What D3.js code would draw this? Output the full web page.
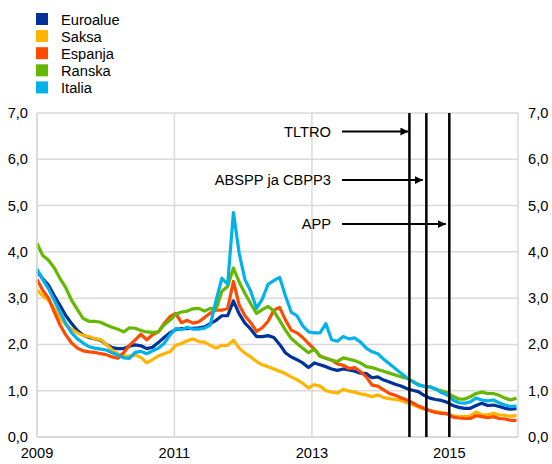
<!DOCTYPE html>
<html>
<head>
<meta charset="utf-8">
<script src="https://cdn.jsdelivr.net/npm/d3@7"></script>
<style>
  body { margin: 0; background: #fff; }
  svg text { font-family: Arial, "Liberation Sans", sans-serif; fill: #000; }
</style>
</head>
<body>
<svg width="552" height="464"></svg>
<script>
// monthly values, Jan 2009 - Dec 2015
const euroalue = [3.58,3.42,3.28,3.05,2.84,2.62,2.45,2.3,2.2,2.15,2.12,2.09,
  2.0,1.93,1.91,1.91,1.96,1.99,1.97,1.91,1.94,2.04,2.15,2.25,
  2.32,2.34,2.34,2.35,2.36,2.38,2.45,2.52,2.62,2.62,2.94,2.66,
  2.46,2.33,2.17,2.17,2.19,2.15,2.0,1.82,1.73,1.67,1.6,1.5,
  1.6,1.56,1.52,1.47,1.44,1.47,1.45,1.42,1.38,1.37,1.28,1.3,
  1.23,1.19,1.14,1.1,1.05,1.01,0.98,0.9,0.84,0.81,0.79,0.75,
  0.68,0.64,0.62,0.62,0.68,0.73,0.68,0.69,0.66,0.62,0.6,0.61];
const saksa = [3.17,3.05,2.95,2.78,2.58,2.42,2.33,2.25,2.19,2.17,2.12,2.11,
  2.0,1.88,1.8,1.75,1.75,1.77,1.72,1.6,1.67,1.75,1.8,1.84,
  1.98,2.02,2.08,2.12,2.06,2.05,1.98,1.92,1.98,1.98,2.09,1.92,
  1.81,1.73,1.63,1.56,1.52,1.47,1.42,1.37,1.3,1.24,1.16,1.06,
  1.13,1.1,1.0,0.97,0.95,1.03,0.99,0.97,0.93,0.91,0.87,0.91,
  0.85,0.83,0.81,0.79,0.74,0.7,0.65,0.6,0.57,0.55,0.53,0.51,
  0.46,0.44,0.44,0.45,0.54,0.48,0.48,0.51,0.48,0.47,0.45,0.46];
const espanja = [3.4,3.17,3.0,2.7,2.42,2.2,2.03,1.92,1.86,1.84,1.83,1.8,
  1.78,1.73,1.7,1.82,1.98,2.1,2.22,2.1,2.21,2.27,2.45,2.6,
  2.67,2.47,2.52,2.46,2.49,2.58,2.68,2.74,2.74,2.78,3.36,2.85,
  2.62,2.47,2.28,2.36,2.5,2.74,2.8,2.53,2.31,2.25,2.15,2.02,
  1.9,1.75,1.7,1.66,1.58,1.55,1.48,1.5,1.41,1.3,1.12,1.1,
  1.02,0.94,0.9,0.85,0.8,0.74,0.67,0.62,0.57,0.53,0.51,0.5,
  0.43,0.41,0.4,0.4,0.46,0.44,0.42,0.44,0.4,0.39,0.36,0.36];
const ranska = [4.19,3.92,3.82,3.65,3.42,3.22,2.95,2.75,2.56,2.5,2.5,2.48,
  2.42,2.37,2.33,2.27,2.36,2.35,2.3,2.27,2.26,2.27,2.42,2.52,
  2.65,2.7,2.72,2.77,2.78,2.72,2.78,2.76,3.15,3.25,3.65,3.35,
  3.1,2.88,2.67,2.75,2.82,2.72,2.52,2.31,2.13,2.02,1.92,1.82,
  1.9,1.74,1.7,1.66,1.63,1.71,1.68,1.65,1.6,1.52,1.5,1.46,
  1.42,1.38,1.34,1.3,1.27,1.2,1.14,1.09,1.09,1.03,1.0,0.96,
  0.88,0.82,0.82,0.87,0.94,0.97,0.94,0.94,0.9,0.84,0.8,0.84];
const italia = [3.63,3.4,3.2,2.95,2.7,2.45,2.25,2.12,2.03,1.95,1.92,1.9,
  1.88,1.82,1.77,1.71,1.7,1.83,1.85,1.8,1.86,1.92,2.02,2.2,
  2.34,2.32,2.37,2.33,2.33,2.35,2.42,2.95,3.43,3.3,4.85,3.97,
  3.4,3.15,2.78,2.98,3.3,3.38,3.45,3.05,2.7,2.62,2.4,2.27,
  2.25,2.25,2.45,2.1,2.07,2.17,2.12,2.14,2.05,1.92,1.84,1.8,
  1.68,1.58,1.48,1.38,1.28,1.2,1.12,1.1,1.08,1.04,0.96,0.91,
  0.8,0.74,0.73,0.76,0.84,0.8,0.78,0.8,0.74,0.69,0.66,0.67];

const seriesNames = ['Euroalue', 'Saksa', 'Espanja', 'Ranska', 'Italia'];
const seriesColors = ['#003299', '#ffb400', '#ff4b00', '#65b800', '#00b1ea'];
const seriesValues = [euroalue, saksa, espanja, ranska, italia];

const yTicks = [0, 1, 2, 3, 4, 5, 6, 7];
const yearTicks = ['2009', '2011', '2013', '2015'];

const eventNames = ['TLTRO', 'ABSPP ja CBPP3', 'APP'];
const eventDates = ['2014-06-03', '2014-09-01', '2015-01-01'];
const eventLevels = [6.6, 5.55, 4.6];

const svg = d3.select('svg');
const plotLeft = 37, plotRight = 518, plotTop = 113, plotBottom = 437;
const fontSize = 14.67;

const parse = d3.timeParse('%Y-%m-%d');
const x = d3.scaleTime()
  .domain([parse('2009-01-01'), parse('2016-01-01')])
  .range([plotLeft, plotRight]);
const xi = d3.scaleLinear().domain([0, 83]).range([plotLeft, plotRight - 1.5]);
const y = d3.scaleLinear().domain([0, 7]).range([plotBottom, plotTop]);
const fmt = d3.formatLocale({decimal: ',', thousands: ' ', grouping: [3], currency: ['', '']}).format('.1f');

// grid
svg.append('g').selectAll('line').data(yTicks).join('line')
  .attr('x1', plotLeft).attr('x2', plotRight)
  .attr('y1', d => y(d)).attr('y2', d => y(d))
  .attr('stroke', '#d9d9d9').attr('stroke-width', 1.5);
svg.append('g').selectAll('line').data(yearTicks).join('line')
  .attr('x1', d => x(parse(d + '-01-01'))).attr('x2', d => x(parse(d + '-01-01')))
  .attr('y1', plotTop).attr('y2', plotBottom)
  .attr('stroke', '#d9d9d9').attr('stroke-width', 1.5);
svg.append('line').attr('x1', plotRight).attr('x2', plotRight).attr('y1', plotTop).attr('y2', plotBottom)
  .attr('stroke', '#d9d9d9').attr('stroke-width', 1.5);

// tick labels
svg.append('g').selectAll('text').data(yTicks).join('text')
  .attr('x', 28).attr('y', d => y(d) + 5)
  .attr('text-anchor', 'end').attr('font-size', fontSize)
  .text(d => fmt(d));
svg.append('g').selectAll('text').data(yTicks).join('text')
  .attr('x', 528).attr('y', d => y(d) + 5)
  .attr('font-size', fontSize)
  .text(d => fmt(d));
svg.append('g').selectAll('text').data(yearTicks).join('text')
  .attr('x', d => x(parse(d + '-01-01'))).attr('y', 458)
  .attr('text-anchor', 'middle').attr('font-size', fontSize)
  .text(d => d);

// series
const line = d3.line().x((d, i) => xi(i)).y(d => y(d)).curve(d3.curveLinear);
seriesValues.forEach((vals, k) => {
  svg.append('path')
    .attr('d', line(vals))
    .attr('fill', 'none')
    .attr('stroke', seriesColors[k])
    .attr('stroke-width', 3.2)
    .attr('stroke-linejoin', 'round');
});

// axes lines
svg.append('line').attr('x1', plotLeft).attr('x2', plotLeft).attr('y1', plotTop).attr('y2', plotBottom)
  .attr('stroke', '#d9d9d9').attr('stroke-width', 1.5);
svg.append('line').attr('x1', plotLeft).attr('x2', plotRight).attr('y1', plotBottom).attr('y2', plotBottom)
  .attr('stroke', '#d9d9d9').attr('stroke-width', 2);

// event markers
svg.append('defs').append('marker')
  .attr('id', 'arrow').attr('viewBox', '0 0 10 10')
  .attr('refX', 10).attr('refY', 5)
  .attr('markerWidth', 4).attr('markerHeight', 4)
  .attr('orient', 'auto')
  .append('path').attr('d', 'M0,0 L10,5 L0,10 Z').attr('fill', '#000');

eventDates.forEach((d, k) => {
  const ex = x(parse(d));
  svg.append('line')
    .attr('x1', ex).attr('x2', ex).attr('y1', plotTop).attr('y2', plotBottom)
    .attr('stroke', '#000').attr('stroke-width', 2.5);
  svg.append('line')
    .attr('x1', 342).attr('x2', ex - (k === 0 ? 1 : 3.5))
    .attr('y1', y(eventLevels[k])).attr('y2', y(eventLevels[k]))
    .attr('stroke', '#000').attr('stroke-width', 2)
    .attr('marker-end', 'url(#arrow)');
  svg.append('text')
    .attr('x', 331).attr('y', y(eventLevels[k]) + 5)
    .attr('text-anchor', 'end').attr('font-size', fontSize)
    .text(eventNames[k]);
});

// legend
const legend = svg.append('g');
seriesNames.forEach((name, k) => {
  legend.append('rect')
    .attr('x', 36).attr('y', 13 + k * 17.1)
    .attr('width', 12).attr('height', 12)
    .attr('fill', seriesColors[k]);
  legend.append('text')
    .attr('x', 61).attr('y', 24.5 + k * 17.1)
    .attr('font-size', fontSize)
    .text(name);
});
</script>
</body>
</html>
